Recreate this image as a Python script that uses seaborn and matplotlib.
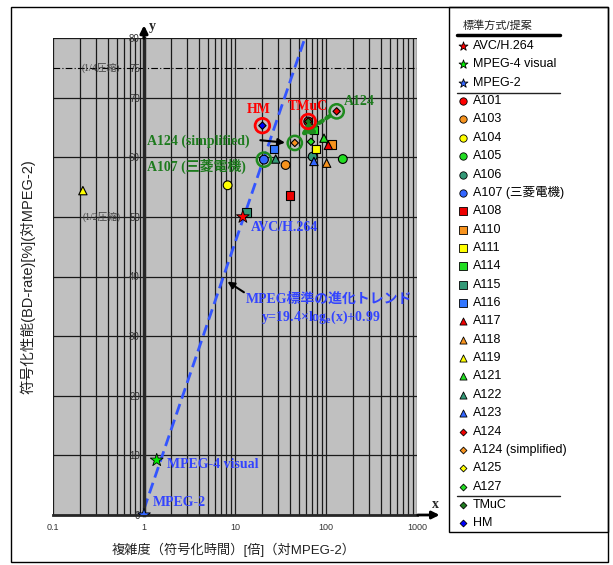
import matplotlib
matplotlib.use('Agg')
import matplotlib.pyplot as plt
import seaborn as sns
import pandas as pd
from matplotlib.patches import Rectangle
from matplotlib.ticker import FixedLocator, FixedFormatter, NullFormatter, LogLocator

# ---------------- data ----------------
std_names = ['AVC/H.264', 'MPEG-4 visual', 'MPEG-2']
std_x = [12.2, 1.38, 1.0]
std_y = [50.0, 9.2, 0.0]
std_colors = ['#FF0000', '#00EE00', '#3366FF']

prop_names = ['A101', 'A103', 'A104', 'A105', 'A106', 'A107 (三菱電機)',
              'A108', 'A110', 'A111', 'A114', 'A115', 'A116',
              'A117', 'A118', 'A119', 'A121', 'A122', 'A123',
              'A124', 'A124 (simplified)', 'A125', 'A127', 'TMuC', 'HM']
prop_x = [63.8, 36.0, 8.3, 153.0, 71.3, 20.8,
          40.0, 117.0, 77.5, 73.7, 13.3, 26.8,
          106.0, 101.7, 0.213, 95.0, 28.0, 73.7,
          131.0, 45.4, 77.5, 68.3, 63.8, 20.0]
prop_y = [66.0, 58.7, 55.3, 59.7, 60.1, 59.6,
          53.6, 62.1, 61.4, 64.6, 50.7, 61.4,
          62.0, 59.0, 54.4, 63.2, 59.7, 59.3,
          67.7, 62.4, 61.4, 62.6, 66.0, 65.3]
prop_markers = ['o'] * 6 + ['s'] * 6 + ['^'] * 6 + ['D'] * 6
prop_colors = ['#FF0000', '#F7931E', '#FFFF00', '#22DD22', '#339977', '#3366FF',
               '#EE0000', '#F7931E', '#FFFF00', '#22DD22', '#339977', '#3377FF',
               '#EE0000', '#F7931E', '#FFFF00', '#22DD22', '#339977', '#3366FF',
               '#EE0000', '#F7931E', '#FFFF00', '#22DD22', '#1E7B1E', '#0000FF']

red_ring = ['TMuC', 'HM']
green_ring = ['A107 (三菱電機)', 'A124 (simplified)', 'A124']

# trend line end points (y = 19.4 ln(x) + 0.99)
trend_x = [1.0, 58.7]
trend_y = [0.99, 80.0]

x_ticks = [0.1, 1, 10, 100, 1000]
x_tick_labels = ['0.1', '1', '10', '100', '1000']
y_ticks = [0, 10, 20, 30, 40, 50, 60, 70, 80]

# ---------------- style ----------------
sns.set_style('white')
plt.rcParams['font.family'] = ['Liberation Sans', 'Noto Sans CJK JP']
SERIF = ['Liberation Serif', 'Noto Sans CJK JP']
GREEN_TXT = '#1E7B1E'
BLUE_TXT = '#3344FF'

fig = plt.figure(figsize=(6.13, 5.65), dpi=100)
W, H = 613, 565
ax = fig.add_axes([53 / W, 1 - 515 / H, 364 / W, 477 / H])
ax.set_facecolor('#C0C0C0')
ax.set_xscale('log')

# trend line
sns.lineplot(x=trend_x, y=trend_y, ax=ax, color='#3355FF', lw=2, zorder=2,
             linestyle=(0, (4, 2)))

# points
df = pd.DataFrame({'name': prop_names, 'x': prop_x, 'y': prop_y,
                   'marker': prop_markers, 'color': prop_colors})
sizes = {'o': 40, 's': 38, '^': 36, 'D': 14}
for m in ['o', 'D', 's', '^']:
    sub = df[df['marker'] == m]
    sns.scatterplot(data=sub, x='x', y='y', hue='name',
                    palette=dict(zip(sub['name'], sub['color'])),
                    marker=m, s=sizes[m], edgecolor='black', linewidth=0.8,
                    legend=False, ax=ax, zorder=4)

sd = pd.DataFrame({'name': std_names, 'x': std_x, 'y': std_y})
sns.scatterplot(data=sd, x='x', y='y', hue='name',
                palette=dict(zip(std_names, std_colors)), marker='*', s=95,
                edgecolor='black', linewidth=0.6, legend=False, ax=ax, zorder=5)

rr = df[df['name'].isin(red_ring)]
ax.scatter(rr['x'], rr['y'], s=110, facecolors='none', edgecolors='#FF0000', lw=2, zorder=6)
gr = df[df['name'].isin(green_ring)]
ax.scatter(gr['x'], gr['y'], s=105, facecolors='none', edgecolors='#1E8B1E', lw=1.8, zorder=6)

ax.set_xlabel('')
ax.set_ylabel('')
ax.set_xlim(0.1, 1000)
ax.set_ylim(0, 80)

ax.set_xticks(x_ticks)
ax.set_xticklabels(x_tick_labels)
ax.xaxis.set_minor_locator(LogLocator(base=10, subs=range(2, 10)))
ax.xaxis.set_minor_formatter(NullFormatter())
ax.set_yticks(y_ticks)
ax.yaxis.set_minor_locator(FixedLocator([75]))
ax.yaxis.set_minor_formatter(FixedFormatter(['75']))
ax.tick_params(axis='x', which='both', length=0, pad=6, labelsize=6.5, labelcolor='#333333')
ax.tick_params(axis='y', which='both', direction='inout', length=6, width=0.8,
               color='#333333', labelsize=7, labelcolor='#333333', pad=0)
ax.set_axisbelow(True)
ax.grid(True, axis='x', which='both', color='#1a1a1a', lw=0.9)
ax.grid(True, axis='y', which='major', color='#1a1a1a', lw=0.9)

for s in ['top', 'right']:
    ax.spines[s].set_visible(False)
ax.spines['left'].set_position(('data', 1))
ax.spines['left'].set_linewidth(2.5)
ax.spines['bottom'].set_linewidth(2)

# axis arrows
ax.annotate('', xy=(1, 82.6), xytext=(1, 79.5),
            arrowprops=dict(arrowstyle='-|>', color='black', lw=2.2, mutation_scale=11),
            annotation_clip=False)
ax.annotate('', xy=(1900, 0), xytext=(950, 0),
            arrowprops=dict(arrowstyle='-|>', color='black', lw=2, mutation_scale=11),
            annotation_clip=False)
ax.text(1.12, 82.0, 'y', fontsize=10, fontweight='bold', family=SERIF, va='center')
ax.text(1450, 1.8, 'x', fontsize=10, fontweight='bold', family=SERIF, va='center')

# 1/4, 1/2 compression
ax.axhline(75, color='black', lw=0.8, ls=(0, (6, 2, 1, 2)), zorder=1.5)
ax.text(0.55, 75, '(1/4圧縮)', fontsize=7, family=SERIF, color='#404040', ha='right', va='center')
ax.text(0.55, 50, '(1/2圧縮)', fontsize=7, family=SERIF, color='#404040', ha='right', va='center')

# annotations
bold = dict(fontsize=10, fontweight='bold', family=SERIF)
ax.text(18.2, 68.0, 'HM', color='#FF0000', ha='center', va='center', **bold)
ax.text(62.8, 68.5, 'TMuC', color='#FF0000', ha='center', va='center', **bold)
ax.text(231, 69.4, 'A124', color=GREEN_TXT, ha='center', va='center', **bold)
ax.text(1.08, 62.6, 'A124 (simplified)', color=GREEN_TXT, ha='left', va='center', **bold)
ax.text(1.08, 58.4, 'A107 (三菱電機)', color=GREEN_TXT, ha='left', va='center', **bold)
ax.text(15.1, 48.2, 'AVC/H.264', color=BLUE_TXT, ha='left', va='center', **bold)
ax.text(13.3, 36.2, 'MPEG標準の進化トレンド', color=BLUE_TXT, ha='left', va='center', **bold)
ax.text(19.5, 33.1, 'y=19.4×log$_\\mathregular{e}$(x)+0.99', color=BLUE_TXT, ha='left',
        va='center', fontsize=10, fontweight='bold', family=['Liberation Serif'])
ax.text(1.77, 8.4, 'MPEG-4 visual', color=BLUE_TXT, ha='left', va='center', **bold)
ax.text(1.26, 2.1, 'MPEG-2', color=BLUE_TXT, ha='left', va='center', **bold)

ax.annotate('', xy=(38, 62.4), xytext=(17.7, 62.9),
            arrowprops=dict(arrowstyle='-|>', color='black', lw=1.5, mutation_scale=10), zorder=7)
ax.annotate('', xy=(7.8, 39.4), xytext=(13.3, 37.1),
            arrowprops=dict(arrowstyle='-|>', color='black', lw=1.5, mutation_scale=10), zorder=7)
ax.annotate('', xy=(52, 63.6), xytext=(131, 67.7),
            arrowprops=dict(arrowstyle='-|>', color='#1E8B1E', lw=3, linestyle=(0, (1, 1)),
                            mutation_scale=16, shrinkA=6, shrinkB=0), zorder=5)

# axis titles
fig.text(28 / W, 1 - 277 / H, '符号化性能(BD-rate)[%](対MPEG-2)', rotation=90,
         ha='center', va='center', fontsize=10.5, color='#222222')
fig.text(234 / W, 1 - 550 / H, '複雑度（符号化時間）[倍]（対MPEG-2）',
         ha='center', va='center', fontsize=9.5, color='#222222')

# borders
fig.patches.append(Rectangle((11 / W, 1 - 562 / H), 597 / W, 555 / H, transform=fig.transFigure,
                             fill=False, ec='black', lw=1))

# legend
lax = fig.add_axes([449 / W, 1 - 532 / H, 159 / W, 525 / H])
lax.set_xlim(449, 608)
lax.set_ylim(532, 7)
lax.axis('off')
lax.add_patch(Rectangle((449, 7), 159, 525, fill=False, ec='black', lw=1, clip_on=False))
lax.text(463, 25, '標準方式/提案', fontsize=8, va='center', ha='left', color='#222222')
lax.plot([457, 560], [34.5, 34.5], color='black', lw=2.5)

leg_names = std_names + prop_names
leg_markers = ['*'] * 3 + prop_markers
leg_colors = std_colors + prop_colors
leg_sizes = {'*': 45, 'o': 28, 's': 28, '^': 26, 'D': 12}
for k, (n, m, c) in enumerate(zip(leg_names, leg_markers, leg_colors)):
    yy = 46 + 18.36 * k
    lax.scatter([463], [yy], marker=m, s=leg_sizes[m], c=c, edgecolors='black', linewidths=0.6)
    lax.text(473, yy, n, fontsize=9, va='center', ha='left', color='black')
lax.plot([457, 560], [93.3, 93.3], color='#222222', lw=1)
lax.plot([457, 560], [495.7, 495.7], color='#222222', lw=1)

fig.savefig('out.png', dpi=100)
